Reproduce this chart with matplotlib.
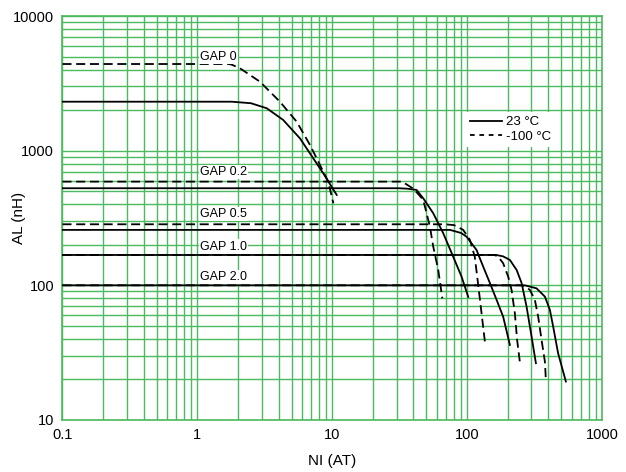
import matplotlib
matplotlib.use("Agg")
import matplotlib.pyplot as plt
from matplotlib.lines import Line2D
from matplotlib.ticker import LogLocator, FixedLocator, NullFormatter

plt.rcParams['font.family'] = ['Liberation Sans', 'DejaVu Sans']

# ---- data ----
gap0_23_x = [0.1, 1.8, 2.5, 3.27, 4.33, 5.76, 7.23, 8.58, 10.8]
gap0_23_y = [2310, 2310, 2250, 2065, 1690, 1236, 878, 679, 469]
gap0_m100_x = [0.1, 1.7, 1.8, 2.07, 2.91, 4.09, 5.45, 6.84, 8.11, 9.34, 10.2]
gap0_m100_y = [4400, 4400, 4350, 4090, 3253, 2312, 1642, 1103, 783, 589, 407]

gap02_23_x = [0.1, 31, 36, 42.2, 47.3, 56.1, 66.5, 78.9, 91, 102]
gap02_23_y = [526, 526, 522, 511, 443, 343, 244, 163, 116, 82]
gap02_m100_x = [0.1, 33, 39.9, 44, 47.3, 50.1, 53, 56.1, 61.1, 65.5]
gap02_m100_y = [589, 589, 522, 469, 430, 343, 273, 194, 130, 80]

gap05_23_x = [0.1, 74.6, 90, 99, 117.5, 131.5, 147.6, 165.5, 185, 207.6]
gap05_23_y = [258, 258, 245, 230, 183, 138, 104, 78, 58.6, 36.1]
gap05_m100_x = [0.1, 68.5, 80, 93.6, 105, 114, 121, 128, 135.5]
gap05_m100_y = [284, 284, 280, 258, 217, 163, 100, 62, 38.2]

gap10_23_x = [0.1, 165, 185, 207.6, 233, 253.6, 276, 300.7, 323.7]
gap10_23_y = [168, 168, 164, 154.4, 130, 104, 69.5, 41.6, 26.4]
gap10_m100_x = [0.1, 160, 170, 185, 201.7, 213.6, 226, 235, 246]
gap10_m100_y = [168, 168, 163, 146, 116, 92.5, 62, 39.3, 27.1]

gap20_23_x = [0.1, 268, 327, 377.6, 411, 434.7, 473, 540]
gap20_23_y = [100, 100, 95, 82.4, 65.7, 49.4, 31.3, 19.3]
gap20_m100_x = [0.1, 255, 270, 292, 318, 336.5, 356.6, 377.6, 383.7]
gap20_m100_y = [100, 100, 98, 92.5, 78, 58.6, 39.3, 27.1, 19.9]

gap_labels = ["GAP 0", "GAP 0.2", "GAP 0.5", "GAP 1.0", "GAP 2.0"]
gap_label_y = [4990, 698, 339, 194, 116]
gap_label_x = 1.05

x_ticks = [0.1, 1, 10, 100, 1000]
x_tick_labels = ["0.1", "1", "10", "100", "1000"]
y_ticks = [10, 100, 1000, 10000]
y_tick_labels = ["10", "100", "1000", "10000"]

legend_labels = ["23 °C", "-100 °C"]

# ---- figure ----
GREEN = '#4cba5e'
fig = plt.figure(figsize=(6.26, 4.72), dpi=100)
ax = fig.add_axes([0.0998, 0.1102, 0.8618, 0.8559])
ax.set_xscale('log')
ax.set_yscale('log')
ax.set_xlim(0.1, 1000)
ax.set_ylim(10, 10000)

ax.xaxis.set_major_locator(FixedLocator(x_ticks))
ax.set_xticklabels(x_tick_labels)
ax.yaxis.set_major_locator(FixedLocator(y_ticks))
ax.set_yticklabels(y_tick_labels)
ax.xaxis.set_minor_locator(LogLocator(base=10, subs=range(2, 10), numticks=20))
ax.yaxis.set_minor_locator(LogLocator(base=10, subs=range(2, 10), numticks=20))
ax.xaxis.set_minor_formatter(NullFormatter())
ax.yaxis.set_minor_formatter(NullFormatter())
ax.tick_params(which='both', length=0, labelsize=10.5, pad=6)
ax.grid(True, which='both', color=GREEN, linewidth=1.0)
ax.set_axisbelow(True)
for s in ax.spines.values():
    s.set_color(GREEN)
    s.set_linewidth(1.2)

dash = (0, (5, 2.6))
series = [
    (gap0_m100_x, gap0_m100_y, gap0_23_x, gap0_23_y),
    (gap02_m100_x, gap02_m100_y, gap02_23_x, gap02_23_y),
    (gap05_m100_x, gap05_m100_y, gap05_23_x, gap05_23_y),
    (gap10_m100_x, gap10_m100_y, gap10_23_x, gap10_23_y),
    (gap20_m100_x, gap20_m100_y, gap20_23_x, gap20_23_y),
]
for mx, my, sx, sy in series:
    ax.plot(mx, my, color='black', lw=1.3, linestyle=dash, zorder=3)
    ax.plot(sx, sy, color='black', lw=1.3, zorder=4)

for lab, ly in zip(gap_labels, gap_label_y):
    ax.text(gap_label_x, ly, lab, fontsize=9, ha='left', va='center', zorder=5,
            bbox=dict(facecolor='white', edgecolor='none', pad=0.8))

handles = [Line2D([], [], color='black', lw=1.3),
           Line2D([], [], color='black', lw=1.3, linestyle=(0, (2.6, 2.6)))]
leg = ax.legend(handles, legend_labels, loc='upper left', bbox_to_anchor=(0.748, 0.762),
                fontsize=9.5, handlelength=2.4, handletextpad=0.3, labelspacing=0.15,
                borderpad=0.3, borderaxespad=0, frameon=True, fancybox=False)
leg.get_frame().set_facecolor('white')
leg.get_frame().set_edgecolor('none')
leg.get_frame().set_alpha(1)
leg.set_zorder(6)

ax.set_xlabel("NI (AT)", fontsize=11)
ax.set_ylabel("AL (nH)", fontsize=11)
ax.xaxis.set_label_coords(0.5, -0.085)
ax.yaxis.set_label_coords(-0.068, 0.5)

fig.savefig("out.png", dpi=100)
